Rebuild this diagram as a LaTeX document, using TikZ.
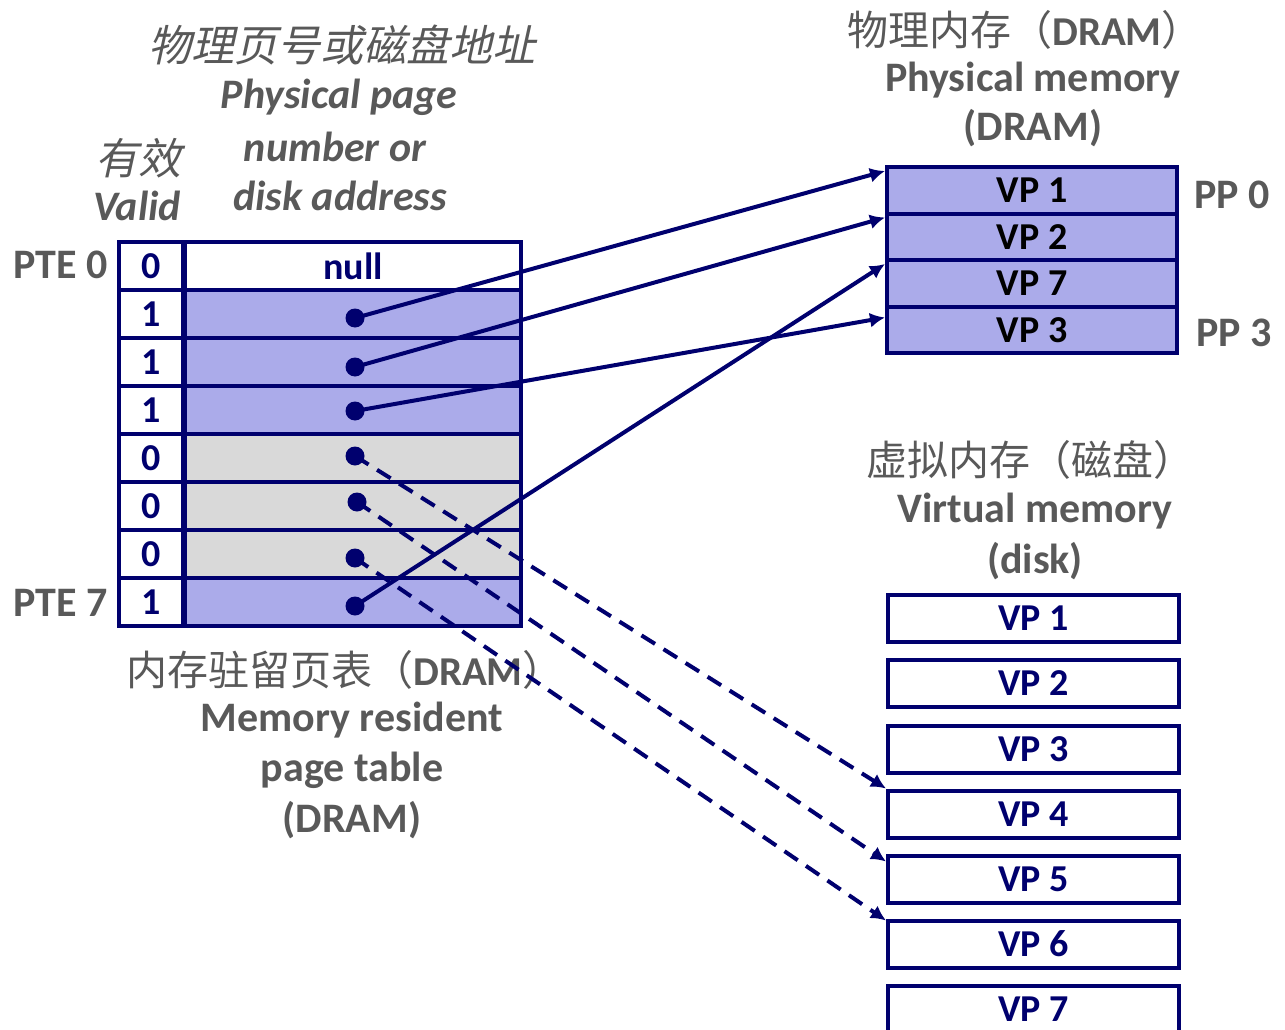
\documentclass[tikz,border=0pt]{standalone}
\usepackage{fontspec}
\setmainfont{Carlito}
\newfontfamily\cjk{Noto Sans CJK SC}
\newfontfamily\cjkit{Noto Sans CJK SC}[FakeSlant=0.22]
\usetikzlibrary{arrows.meta}
\definecolor{navy}{RGB}{0,0,110}
\definecolor{lav}{RGB}{171,171,234}
\definecolor{lgray}{RGB}{217,217,217}
\definecolor{txtgray}{RGB}{89,89,89}
\begin{document}
\begin{tikzpicture}[x=1pt,y=-1pt,
  box/.style={draw=navy,line width=4pt,inner sep=0pt,minimum height=48pt},
  vcell/.style={box,minimum width=64pt,fill=white,text=navy,font=\bfseries\fontsize{38}{44}\selectfont},
  acell/.style={box,minimum width=336pt},
  pmcell/.style={box,minimum width=290pt,minimum height=46.5pt,fill=lav,text=black,font=\bfseries\fontsize{38}{44}\selectfont},
  vmcell/.style={box,minimum width=291pt,minimum height=47pt,fill=white,text=navy,font=\bfseries\fontsize{38}{44}\selectfont},
  lbl/.style={text=txtgray,inner sep=0pt,font=\bfseries\fontsize{42}{48}\selectfont},
  ilbl/.style={text=txtgray,inner sep=0pt,font=\bfseries\itshape\fontsize{42}{48}\selectfont},
  zh/.style={text=txtgray,inner sep=0pt,font=\fontsize{41}{48}\selectfont},
  dot/.style={circle,fill=navy,inner sep=0pt,minimum size=19pt},
  link/.style={draw=navy,line width=4pt,-{Latex[length=15pt,width=15pt]}},
  dlink/.style={link,dash pattern=on 16pt off 10pt}
]
\useasboundingbox (0,0) rectangle (1285,1030);

% page table
\node[vcell] (v0) at (151,266) {0};
\node[acell,fill=white,text=navy,font=\bfseries\fontsize{38}{44}\selectfont] (a0) at (353,266) {null};
\node[vcell] (v1) at (151,314) {1};
\node[acell,fill=lav] (a1) at (353,314) {};
\node[vcell] (v2) at (151,362) {1};
\node[acell,fill=lav] (a2) at (353,362) {};
\node[vcell] (v3) at (151,410) {1};
\node[acell,fill=lav] (a3) at (353,410) {};
\node[vcell] (v4) at (151,458) {0};
\node[acell,fill=lgray] (a4) at (353,458) {};
\node[vcell] (v5) at (151,506) {0};
\node[acell,fill=lgray] (a5) at (353,506) {};
\node[vcell] (v6) at (151,554) {0};
\node[acell,fill=lgray] (a6) at (353,554) {};
\node[vcell] (v7) at (151,602) {1};
\node[acell,fill=lav] (a7) at (353,602) {};

\node[lbl,anchor=east] (pte0) at (108,265) {PTE 0};
\node[lbl,anchor=east] (pte7) at (108,603) {PTE 7};

% headers
\node[zh,font=\cjkit\fontsize{43}{48}\selectfont] (hdrzh) at (342,45) {物理页号或磁盘地址};
\node[ilbl] (hdr1) at (339,97) {Physical page};
\node[ilbl] (hdr2) at (335,147) {number or};
\node[ilbl] (hdr3) at (340,196) {disk address};
\node[zh,font=\cjkit\fontsize{43}{48}\selectfont] (validzh) at (138,158) {有效};
\node[ilbl] (valid) at (137,206) {Valid};

% table caption
\node[zh] (ptzh) at (345,670) {{\cjk 内存驻留页表（}{\bfseries DRAM}{\cjk ）}};
\node[lbl] (pt1) at (352,720) {Memory resident};
\node[lbl] (pt2) at (352,770) {page table};
\node[lbl] (pt3) at (352,820) {(DRAM)};

% physical memory
\node[zh] (pmzh) at (1025,30) {{\cjk 物理内存（}{\bfseries DRAM}{\cjk ）}};
\node[lbl] (pm1) at (1033,80) {Physical memory};
\node[lbl] (pm2) at (1033,128) {(DRAM)};
\node[pmcell] (p1) at (1032,190.25) {VP 1};
\node[pmcell] (p2) at (1032,236.75) {VP 2};
\node[pmcell] (p3) at (1032,283.25) {VP 7};
\node[pmcell] (p4) at (1032,329.75) {VP 3};
\node[lbl] (pp0) at (1232,195) {PP 0};
\node[lbl] (pp3) at (1234,333) {PP 3};

% virtual memory
\node[zh] (vmzh) at (1030,460) {{\cjk 虚拟内存（磁盘）}};
\node[lbl] (vm1) at (1035,511) {Virtual memory};
\node[lbl] (vm2) at (1035,561) {(disk)};
\node[vmcell] (m1) at (1033.5,618.5) {VP 1};
\node[vmcell] (m2) at (1033.5,683.5) {VP 2};
\node[vmcell] (m3) at (1033.5,749) {VP 3};
\node[vmcell] (m4) at (1033.5,814) {VP 4};
\node[vmcell] (m5) at (1033.5,879) {VP 5};
\node[vmcell] (m6) at (1033.5,944) {VP 6};
\node[vmcell] (m7) at (1033.5,1009) {VP 7};

% dots
\node[dot] (d1) at (355,318) {};
\node[dot] (d2) at (355,367) {};
\node[dot] (d3) at (355,411) {};
\node[dot] (d4) at (355,456) {};
\node[dot] (d5) at (357,502) {};
\node[dot] (d6) at (355,558) {};
\node[dot] (d7) at (355,606) {};

% connectors
\draw[link] (d1.center) -- ([yshift=-6pt]p1.north west);
\draw[link] (d2.center) -- ([yshift=-6pt]p2.north west);
\draw[link] (d3.center) -- ([yshift=-13pt]p4.north west);
\draw[link] (d7.center) -- ([yshift=-6pt]p3.north west);
\draw[dlink] (d4.center) -- (m4.north west);
\draw[dlink] (d5.center) -- ([yshift=-8pt]m5.north west);
\draw[dlink] (d6.center) -- ([yshift=-2pt]m6.north west);
\end{tikzpicture}
\end{document}
